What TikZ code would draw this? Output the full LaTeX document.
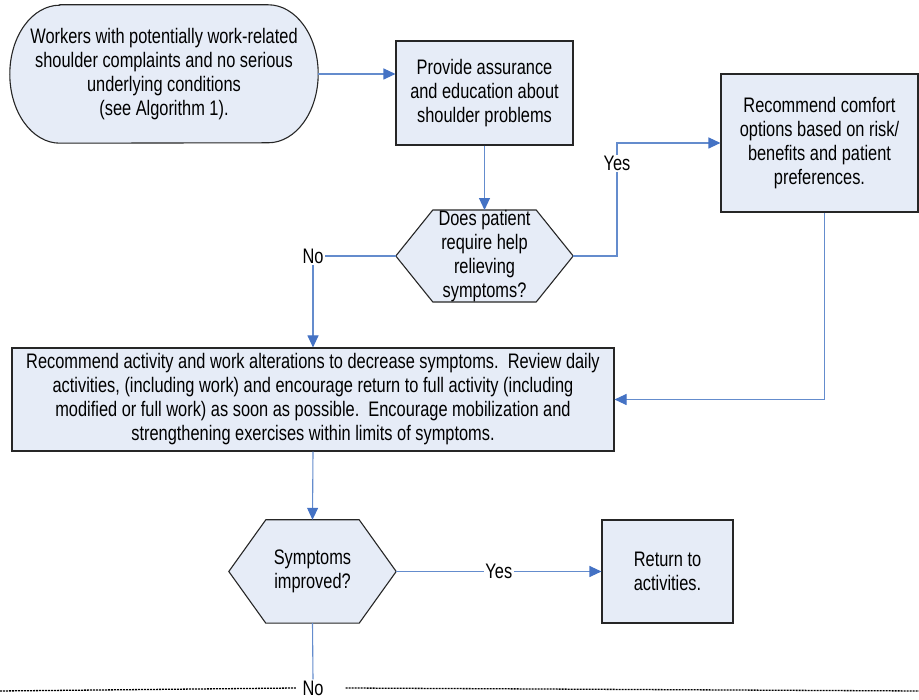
\documentclass[tikz,border=0pt]{standalone}
\usepackage{fontspec}
\setmainfont{Liberation Sans}[FakeStretch=0.78]
\usetikzlibrary{arrows.meta,backgrounds,calc}
\definecolor{boxfill}{RGB}{230,236,247}
\definecolor{conncol}{RGB}{100,140,205}
\definecolor{tipcol}{RGB}{68,114,196}
\tikzset{
  txt/.style={font=\fontsize{21}{24}\selectfont, align=center, inner sep=0pt},
  procbox/.style={txt, draw=black!85, line width=1.1pt, fill=boxfill},
  shapeline/.style={draw=black!85, line width=1.1pt, fill=boxfill},
  connline/.style={draw=conncol, line width=1.1pt},
  arr/.style={connline, -{Triangle[length=12pt,width=11pt,fill=tipcol,color=tipcol]}},
  lbl/.style={txt, fill=white, inner sep=1.5pt},
  dashline/.style={draw=black, line width=1.3pt, dash pattern=on 2pt off 1pt},
}
\begin{document}
\begin{tikzpicture}[x=1pt,y=1pt]
\useasboundingbox (0,0) rectangle (919,700);

% start (stadium)
\node[txt, minimum width=308pt, minimum height=138pt] (start) at (164,626)
  {Workers with potentially work-related\\shoulder complaints and no serious\\underlying conditions\\(see Algorithm 1).};
\begin{scope}[on background layer]
\draw[shapeline] ($(start.north west)+(50,0)$) -- ($(start.north east)+(-50,0)$)
  arc[start angle=90,end angle=-90,x radius=50,y radius=69]
  -- ($(start.south west)+(50,0)$)
  arc[start angle=270,end angle=90,x radius=50,y radius=69] -- cycle;
\end{scope}

% box 1
\node[procbox, minimum width=177pt, minimum height=104pt] (box1) at (484.5,607)
  {Provide assurance\\and education about\\shoulder problems};

% hexagon 1
\node[txt, minimum width=177pt, minimum height=90pt] (h1) at (484.5,444)
  {Does patient\\require help\\relieving\\symptoms?};

% box 2
\node[procbox, minimum width=197pt, minimum height=138pt] (box2) at (819.5,557)
  {Recommend comfort\\options based on risk/\\benefits and patient\\preferences.};

% big box
\node[procbox, minimum width=602pt, minimum height=103pt] (big) at (313,300.5)
  {Recommend activity and work alterations to decrease symptoms.\ \ Review daily\\
   activities, (including work) and encourage return to full activity (including\\
   modified or full work) as soon as possible.\ \ Encourage mobilization and\\
   strengthening exercises within limits of symptoms.};

% hexagon 2
\node[txt, minimum width=167pt, minimum height=103pt] (h2) at (312.5,128.5)
  {Symptoms\\improved?};

% box 3
\node[procbox, minimum width=131pt, minimum height=103pt] (box3) at (667.5,128.5)
  {Return to\\activities.};

\begin{scope}[on background layer]
\draw[shapeline] (h1.west) -- ($(h1.north west)+(37,0)$) -- ($(h1.north east)+(-37,0)$)
  -- (h1.east) -- ($(h1.south east)+(-37,0)$) -- ($(h1.south west)+(37,0)$) -- cycle;
\draw[shapeline] (h2.west) -- ($(h2.north west)+(37,0)$) -- ($(h2.north east)+(-37,0)$)
  -- (h2.east) -- ($(h2.south east)+(-37,0)$) -- ($(h2.south west)+(37,0)$) -- cycle;
\end{scope}

% connectors
\draw[arr] (start.east) -- (start.east -| box1.west);
\draw[arr] (box1.south) -- (h1.north);
\coordinate (yesbend) at (617,444);
\draw[arr] (h1.east) -- (yesbend) |- (box2.west) node[lbl, pos=0.41] {Yes};
\draw[arr] (h1.west) -| (big.north) node[lbl, pos=0.5] {No};
\draw[arr] ([xshift=5pt]box2.south) |- (big.east);
\draw[arr] (big.south) -- (h2.north);
\draw[arr] (h2.east) -- (box3.west) node[lbl, pos=0.5] {Yes};

% bottom
\node[txt, inner sep=1pt] (no2) at (313,12) {No};
\draw[connline] (h2.south) -- (no2.north);
\coordinate (dl) at (0,9);
\coordinate (dr) at (919,9);
\draw[dashline] (dl) -- ([xshift=-5pt]no2.west);
\draw[dashline] ([xshift=21pt]no2.east) -- (dr);
\end{tikzpicture}
\end{document}
